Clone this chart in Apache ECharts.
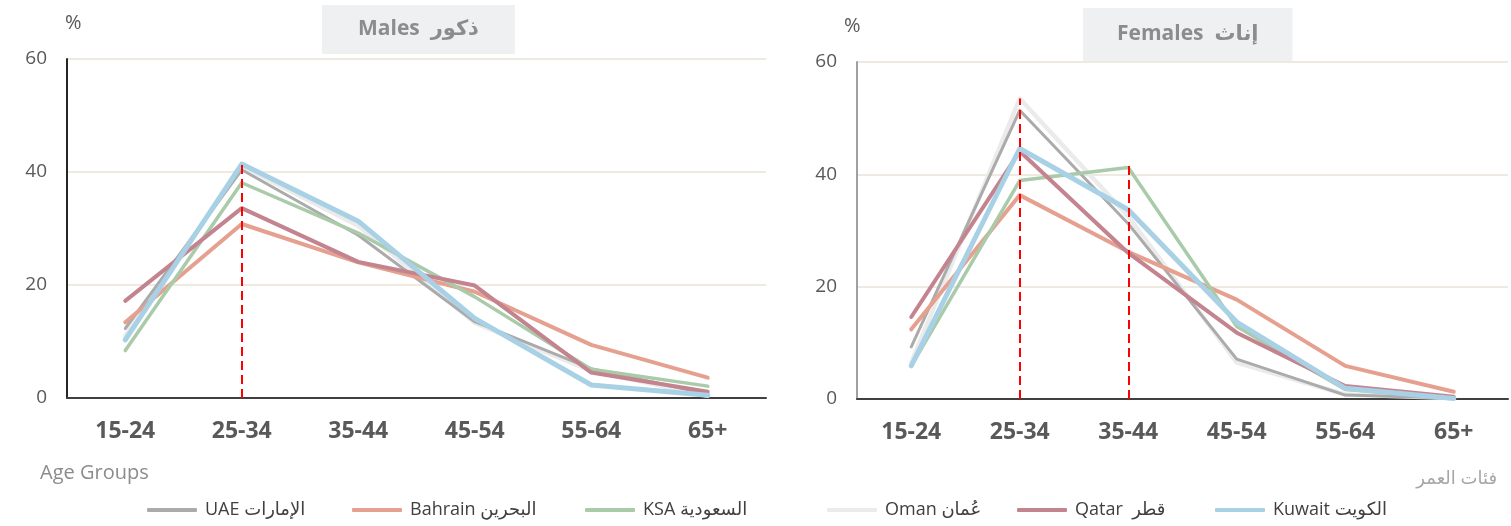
<!DOCTYPE html>
<html>
<head>
<meta charset="utf-8">
<script src="https://cdn.jsdelivr.net/npm/echarts@6/dist/echarts.min.js"></script>
<style>
  html, body { margin: 0; padding: 0; background: #fff; }
  #chart { width: 1511px; height: 526px; }
</style>
</head>
<body>
<div id="chart"></div>
<script>
// age groups on the x axis
var ageGroups = ['15-24', '25-34', '35-44', '45-54', '55-64', '65+'];
var yTicks = [0, 20, 40, 60];

// males (%)
var maleUAE     = [12.3, 40.4, 28.8, 13.5, 5.2, 0.7];
var maleBahrain = [13.4, 30.8, 24.0, 18.8, 9.4, 3.6];
var maleKSA     = [8.4, 38.1, 29.2, 17.9, 5.1, 2.1];
var maleOman    = [11.0, 41.0, 30.5, 13.3, 4.8, 0.4];
var maleQatar   = [17.2, 33.6, 24.1, 19.9, 4.5, 1.1];
var maleKuwait  = [10.3, 41.4, 31.3, 14.1, 2.3, 0.5];

// females (%)
var femaleUAE     = [9.3, 51.4, 31.2, 7.1, 0.7, 0.2];
var femaleBahrain = [12.4, 36.3, 26.2, 17.7, 5.9, 1.3];
var femaleKSA     = [5.9, 38.9, 41.2, 12.9, 1.7, 0.2];
var femaleOman    = [6.5, 53.5, 32.5, 6.5, 0.8, 0.2];
var femaleQatar   = [14.6, 44.1, 26.0, 11.8, 2.3, 0.4];
var femaleKuwait  = [5.9, 44.6, 33.7, 13.7, 1.9, 0.1];

// red dashed reference lines: [category, top value]
var maleRefs = [['25-34', 42.1]];
var femaleRefs = [['25-34', 53.5], ['35-44', 41.6]];

var names = ['UAE الإمارات', 'Bahrain البحرين', 'KSA السعودية', 'Oman عُمان', 'Qatar  قطر', 'Kuwait الكويت'];
var colors = {
  'Oman عُمان': '#ebebeb',
  'UAE الإمارات': '#ababab',
  'Bahrain البحرين': '#e6a08f',
  'KSA السعودية': '#a9cba9',
  'Qatar  قطر': '#c4848f',
  'Kuwait الكويت': '#a8d1e6'
};
var widths = {
  'Oman عُمان': 4.5,
  'UAE الإمارات': 3,
  'Bahrain البحرين': 4,
  'KSA السعودية': 3.5,
  'Qatar  قطر': 4,
  'Kuwait الكويت': 5
};

var maleData = {
  'Oman عُمان': maleOman, 'UAE الإمارات': maleUAE, 'Bahrain البحرين': maleBahrain,
  'KSA السعودية': maleKSA, 'Qatar  قطر': maleQatar, 'Kuwait الكويت': maleKuwait
};
var femaleData = {
  'Oman عُمان': femaleOman, 'UAE الإمارات': femaleUAE, 'Bahrain البحرين': femaleBahrain,
  'KSA السعودية': femaleKSA, 'Qatar  قطر': femaleQatar, 'Kuwait الكويت': femaleKuwait
};
var drawOrder = ['Oman عُمان', 'UAE الإمارات', 'Bahrain البحرين', 'KSA السعودية', 'Qatar  قطر', 'Kuwait الكويت'];

// where each legend item starts (line left edge)
var legendLeft = {
  'UAE الإمارات': 142, 'Bahrain البحرين': 347, 'KSA السعودية': 580,
  'Oman عُمان': 822, 'Qatar  قطر': 1012, 'Kuwait الكويت': 1210
};

var font = '"Open Sans", "DejaVu Sans", sans-serif';

function refLines(refs) {
  return refs.map(function (r) {
    return [{ coord: [r[0], 0] }, { coord: [r[0], r[1]] }];
  });
}

function buildSeries(data, idx, refs) {
  var list = drawOrder.map(function (n) {
    return {
      name: n,
      type: 'line',
      xAxisIndex: idx,
      yAxisIndex: idx,
      data: data[n],
      showSymbol: false,
      symbol: 'none',
      smooth: false,
      color: colors[n],
      lineStyle: { color: colors[n], width: widths[n], cap: 'round', join: 'round' },
      emphasis: { disabled: true }
    };
  });
  list.push({
    type: 'line',
    xAxisIndex: idx,
    yAxisIndex: idx,
    data: [],
    silent: true,
    z: 5,
    markLine: {
      silent: true,
      symbol: 'none',
      label: { show: false },
      lineStyle: { color: '#ff0000', type: [9, 5], width: 2 },
      data: refLines(refs)
    }
  });
  return list;
}

function xAxis(idx) {
  return {
    type: 'category',
    gridIndex: idx,
    data: ageGroups,
    boundaryGap: true,
    axisLine: { lineStyle: { color: '#404040', width: 2 } },
    axisTick: { show: false },
    axisLabel: { color: '#595959', fontSize: 23, fontWeight: 'bold', fontFamily: font, margin: 22 },
    splitLine: { show: false }
  };
}

function yAxis(idx, lineColor) {
  return {
    type: 'value',
    gridIndex: idx,
    min: yTicks[0],
    max: yTicks[yTicks.length - 1],
    interval: 20,
    axisLine: { show: true, lineStyle: { color: lineColor, width: 2 } },
    axisTick: { show: false },
    axisLabel: { color: '#595959', fontSize: 19, fontFamily: font, margin: 20 },
    splitLine: { lineStyle: { color: '#eeeae0', width: 2 } }
  };
}

var legends = names.map(function (n) {
  return {
    data: [n],
    left: legendLeft[n],
    top: 496,
    icon: 'roundRect',
    itemWidth: 50,
    itemHeight: 4,
    textStyle: { color: '#404040', fontSize: 18, fontFamily: font, padding: [0, 0, 0, 3] },
    selectedMode: false
  };
});

var chart = echarts.init(document.getElementById('chart'));

var option = {
  animation: false,
  backgroundColor: '#ffffff',
  title: [{
    text: 'Males  ذكور',
    left: 322,
    top: 5,
    backgroundColor: '#eff0f2',
    padding: [14, 36, 14, 36],
    textStyle: { color: '#8c8c8c', fontSize: 21, fontWeight: 'bold', fontFamily: font }
  }, {
    text: 'Females  إناث',
    left: 1083,
    top: 8,
    backgroundColor: '#eff0f2',
    padding: [16, 34, 16, 34],
    textStyle: { color: '#8c8c8c', fontSize: 21, fontWeight: 'bold', fontFamily: font }
  }],
  legend: legends,
  graphic: [
    { type: 'text', left: 65, top: 13, style: { text: '%', fill: '#595959', font: '20px ' + font } },
    { type: 'text', left: 844, top: 16, style: { text: '%', fill: '#595959', font: '20px ' + font } },
    { type: 'text', left: 40, top: 463, style: { text: 'Age Groups', fill: '#8c8c8c', font: '20px ' + font } },
    { type: 'text', right: 14, top: 470, style: { text: 'فئات العمر', fill: '#a6a6a6', font: '18px ' + font } }
  ],
  grid: [
    { left: 67, right: 745, top: 59, bottom: 128 },
    { left: 857, right: 3, top: 62, bottom: 127 }
  ],
  xAxis: [xAxis(0), xAxis(1)],
  yAxis: [yAxis(0, '#262626'), yAxis(1, '#a0a0a0')],
  series: buildSeries(maleData, 0, maleRefs).concat(buildSeries(femaleData, 1, femaleRefs))
};

chart.setOption(option);
</script>
</body>
</html>
